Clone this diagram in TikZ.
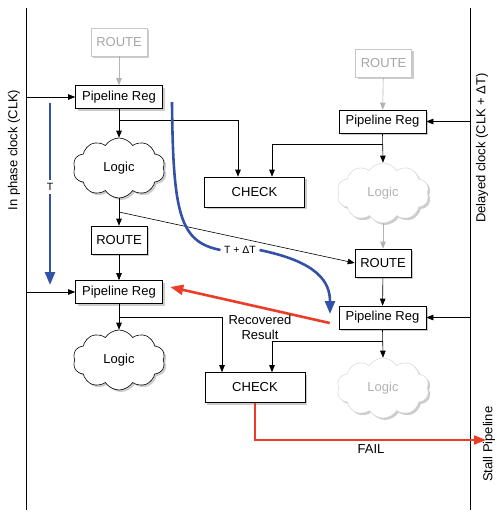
\documentclass[tikz,border=0pt]{standalone}
\usepackage{fontspec}
\setmainfont{Liberation Sans}
\usetikzlibrary{arrows.meta,shapes.symbols,shadows,calc}
\definecolor{myred}{RGB}{235,60,40}
\definecolor{myblue}{RGB}{52,82,165}
\begin{document}
\begin{tikzpicture}[x=1pt,y=-1pt,line width=0.6pt,
  font=\fontsize{13}{15}\selectfont,
  shad/.style={drop shadow={shadow xshift=2pt,shadow yshift=-2pt,opacity=0.4}},
  box/.style={draw,fill=white,inner sep=0pt,shad},
  reg/.style={box,minimum width=87pt,minimum height=23pt},
  route/.style={box,minimum width=56pt,minimum height=28pt},
  chk/.style={box,minimum width=100pt,minimum height=30pt},
  ghost/.style={draw=black!22,text=black!35},
  logic/.style={cloud,cloud puffs=10,cloud puff arc=115,cloud ignores aspect,
    minimum width=92pt,minimum height=60pt,inner sep=0pt,draw,fill=white,shad},
  ghostlogic/.style={logic,draw=black!14,text=black!30},
  arr/.style={-{Triangle[length=7pt,width=5.5pt]}},
  garr/.style={draw=black!30,-{Triangle[length=7pt,width=5.5pt]}},
  bluearr/.style={draw=myblue,line width=2.6pt},
  small/.style={font=\fontsize{10.5}{12}\selectfont}
]
\useasboundingbox (0,0) rectangle (497,515);

% clock lines
\coordinate (lct) at (26,8);
\coordinate (lcb) at (26,510);
\coordinate (rct) at (470,8);
\coordinate (rcb) at (470,510);
\draw (lct) -- (lcb);
\draw (rct) -- (rcb);
\node[rotate=90] (lclab) at (14,150) {In phase clock (CLK)};
\node[rotate=90] (rclab) at (482,148) {Delayed clock (CLK + ΔT)};
\node[rotate=90,anchor=east] (stall) at (489,403) {Stall Pipeline};

% left column
\node[route,ghost] (rt1) at (119,42) {ROUTE};
\node[reg] (pr1) at (119,97) {Pipeline Reg};
\node[logic] (lg1) at (119,168) {Logic};
\node[route] (rt2) at (119,240) {ROUTE};
\node[reg] (pr2) at (119,292) {Pipeline Reg};
\node[logic] (lg2) at (119,360) {Logic};

% middle
\node[chk] (chk1) at (254.5,192) {CHECK};
\node[chk] (chk2) at (255,387.5) {CHECK};

% right column
\node[route,ghost] (rt3) at (383.5,63) {ROUTE};
\node[reg] (pr3) at (382.5,121.5) {Pipeline Reg};
\node[ghostlogic] (lg3) at (383,193) {Logic};
\node[route] (rt4) at (383,263) {ROUTE};
\node[reg] (pr4) at (382.5,317.5) {Pipeline Reg};
\node[ghostlogic] (lg4) at (383,388) {Logic};

% clock arrows
\draw[arr] (lct |- pr1.west) -- (pr1.west);
\draw[arr] (lct |- pr2.west) -- (pr2.west);
\draw[arr] (rct |- pr3.east) -- (pr3.east);
\draw[arr] (rct |- pr4.east) -- (pr4.east);

% vertical flow
\draw[garr] (rt1) -- (pr1);
\draw[arr] (pr1.south) -- (lg1.north);
\draw[arr] (lg1.south) -- (rt2.north);
\draw[arr] (rt2) -- (pr2);
\draw[arr] (pr2.south) -- (lg2.north);

\draw[garr] (rt3) -- (pr3);
\draw[arr] (pr3.south) -- (lg3.north);
\draw[garr] (lg3.south) -- (rt4.north);
\draw[arr] (rt4) -- (pr4);
\draw[arr] (pr4.south) -- (lg4.north);

% branches to checks
\draw[arr] ([yshift=-11pt]pr1.south) -| ([xshift=-16.5pt]chk1.north);
\draw[arr] ([yshift=-11pt]pr3.south) -| ([xshift=17.5pt]chk1.north);
\draw[arr] ([yshift=-13pt]pr2.south) -| ([xshift=-33pt]chk2.north);
\draw[arr] ([yshift=-12pt]pr4.south) -| ([xshift=17pt]chk2.north);

% logic1 to right route
\coordinate (j1) at ($(lg1.south)!0.5!(rt2.north)$);
\draw[arr] (j1) -- (rt4.west);

% blue T arrow
\node[small] (T) at (50,187) {T};
\coordinate (ts) at (50,103);
\draw[bluearr] (ts) -- (T.north);
\draw[bluearr,-{Triangle[length=13pt,width=10pt]}] (T.south) -- (50,285);

% blue T + dT curve
\node[small] (dt) at (240,250) {T + ΔT};
\coordinate (cs) at (172,102);
\draw[bluearr] (cs) .. controls (173,215) and (180,242) .. (dt.west);
\coordinate (ce) at (330,314);
\draw[bluearr,-{Triangle[length=13pt,width=10pt]}] (dt.east) .. controls (318,262) and (330,282) .. (ce);

% red recovered result
\coordinate (rs) at ($(pr4.west)+(-9,5.5)$);
\coordinate (re) at ($(pr2.east)+(7.5,-5)$);
\draw[draw=myred,line width=2.6pt,-{Triangle[length=13pt,width=10pt]}] (rs) -- (re);
\node[align=center] (rec) at (260,327.5) {Recovered\\Result};

% fail
\coordinate (fe) at (486,440);
\draw[draw=myred,line width=1.8pt,-{Triangle[length=12pt,width=9pt]}] (chk2.south) |- (fe);
\node (fail) at (371,449) {FAIL};
\end{tikzpicture}
\end{document}
